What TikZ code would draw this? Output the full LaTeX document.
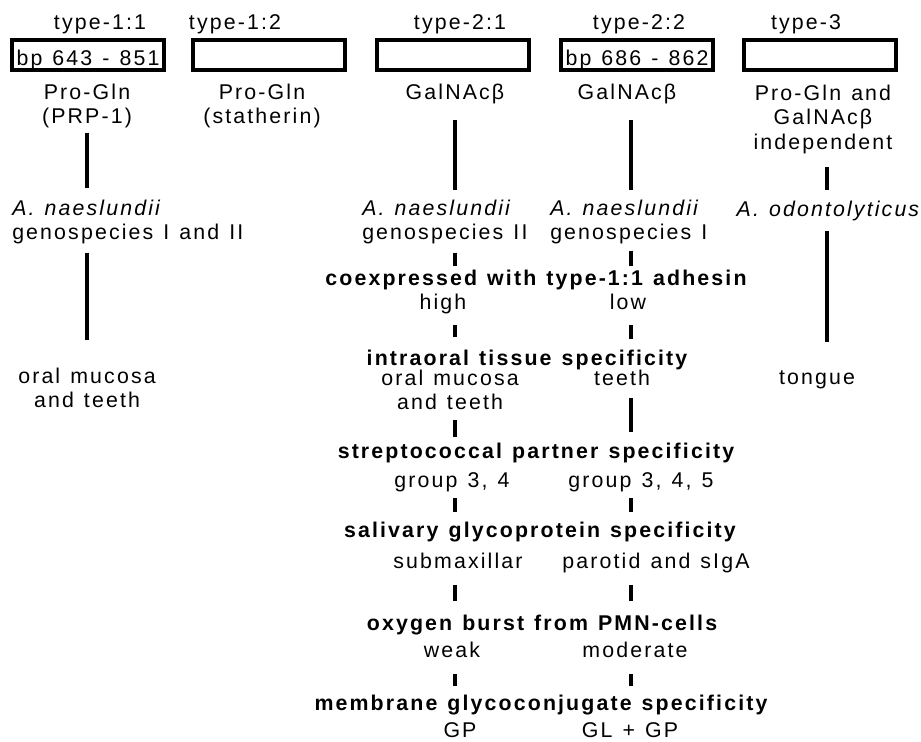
\documentclass[tikz,border=0pt]{standalone}
\usepackage{fontspec}
\setmainfont{Liberation Sans}[LetterSpace=10, WordSpace=1.25]
\tikzstyle{lbl} = [inner sep=0pt, anchor=base, text height=11.5pt, text depth=3.4pt]
\tikzstyle{head} = [lbl, font=\fontsize{16}{18.5}\selectfont\bfseries]
\tikzstyle{multi} = [inner sep=0pt, anchor=north, align=center]
\tikzstyle{block} = [draw, line width=2.8pt, minimum width=114pt, minimum height=22.7pt, inner sep=0pt, text height=16pt, text depth=0pt]
\tikzstyle{bar} = [line width=3.2pt]

\begin{document}
\begin{tikzpicture}[x=0.75pt, y=-0.75pt, font=\fontsize{16}{18.5}\selectfont]
  \useasboundingbox (0,0) rectangle (921,742);
  \coordinate (c1) at (87,0);
  \coordinate (c3) at (455,0);
  \coordinate (c4) at (631,0);
  \coordinate (c5) at (827,0);

  \node[lbl] (t11) at (100,30) {type-1:1};
  \node[lbl] (t12) at (235,30) {type-1:2};
  \node[lbl] (t21) at (460,30) {type-2:1};
  \node[lbl] (t22) at (639,30) {type-2:2};
  \node[lbl] (t3) at (806,30) {type-3};

  \node[block] (b11) at (88,55) {bp 643 - 851};
  \node[block] (b12) at (269,55) {};
  \node[block] (b21) at (453,55) {};
  \node[block] (b22) at (637,55) {bp 686 - 862};
  \node[block] (b3) at (820,55) {};

  \node[multi] (g11) at (87,83.5) {Pro-Gln\\(PRP-1)};
  \node[multi] (g12) at (262,83.5) {Pro-Gln\\(statherin)};
  \node[lbl] (g21) at (455,99) {GalNAcβ};
  \node[lbl] (g22) at (627,99) {GalNAcβ};
  \node[multi] (g3) at (823,84.5) {Pro-Gln and\\GalNAcβ\\independent};

  \node[multi, anchor=north west, align=left] (a11) at (12,199.5) {\textit{A. naeslundii}\\genospecies I and II};
  \node[multi, anchor=north west, align=left] (a21) at (362,199.5) {\textit{A. naeslundii}\\genospecies II};
  \node[multi, anchor=north west, align=left] (a22) at (550,199.5) {\textit{A. naeslundii}\\genospecies I};
  \node[lbl] (a3) at (829,216) {\textit{A. odontolyticus}};

  \node[multi] (o11) at (87,367.5) {oral mucosa\\and teeth};
  \node[lbl] (o3) at (817,384) {tongue};

  \node[head] (co) at (536,285) {coexpressed with type-1:1 adhesin};
  \node[lbl] (co1) at (443,309) {high};
  \node[lbl] (co2) at (628,309) {low};

  \node[head] (it) at (527,365) {intraoral tissue specificity};
  \node[multi] (it1) at (450,369.5) {oral mucosa\\and teeth};
  \node[lbl] (it2) at (622,385) {teeth};

  \node[head] (st) at (536,458) {streptococcal partner specificity};
  \node[lbl] (st1) at (452,487) {group 3, 4};
  \node[lbl] (st2) at (641,487) {group 3, 4, 5};

  \node[head] (sa) at (540,537) {salivary glycoprotein specificity};
  \node[lbl] (sa1) at (458,568) {submaxillar};
  \node[lbl] (sa2) at (656,568) {parotid and sIgA};

  \node[head] (ox) at (542,630) {oxygen burst from PMN-cells};
  \node[lbl] (ox1) at (452,657) {weak};
  \node[lbl] (ox2) at (635,657) {moderate};

  \node[head] (mb) at (541,710) {membrane glycoconjugate specificity};
  \node[lbl] (mb1) at (460,737) {GP};
  \node[lbl] (mb2) at (630,737) {GL + GP};

  \foreach \from/\to/\col/\p/\q in {g11/a11/c1/4/12, a11/o11/c1/8/28,
      g21/a21/c3/16/10, a21/co/c3/8/3, co1/it/c3/11/12, it1/st/c3/10/5,
      st1/sa/c3/6/9, sa1/ox/c3/12/13, ox1/mb/c3/12/8,
      g22/a22/c4/16/10, a22/co/c4/6/3, co2/it/c4/11/10, it2/st/c4/8/10,
      st2/sa/c4/6/9, sa2/ox/c4/12/13, ox2/mb/c4/12/8,
      g3/a3/c5/13/10, a3/o3/c5/10/26}
    \draw[bar, shorten <=\p*0.75pt, shorten >=\q*0.75pt] (\from.south -| \col) -- (\to.north -| \col);
\end{tikzpicture}
\end{document}
